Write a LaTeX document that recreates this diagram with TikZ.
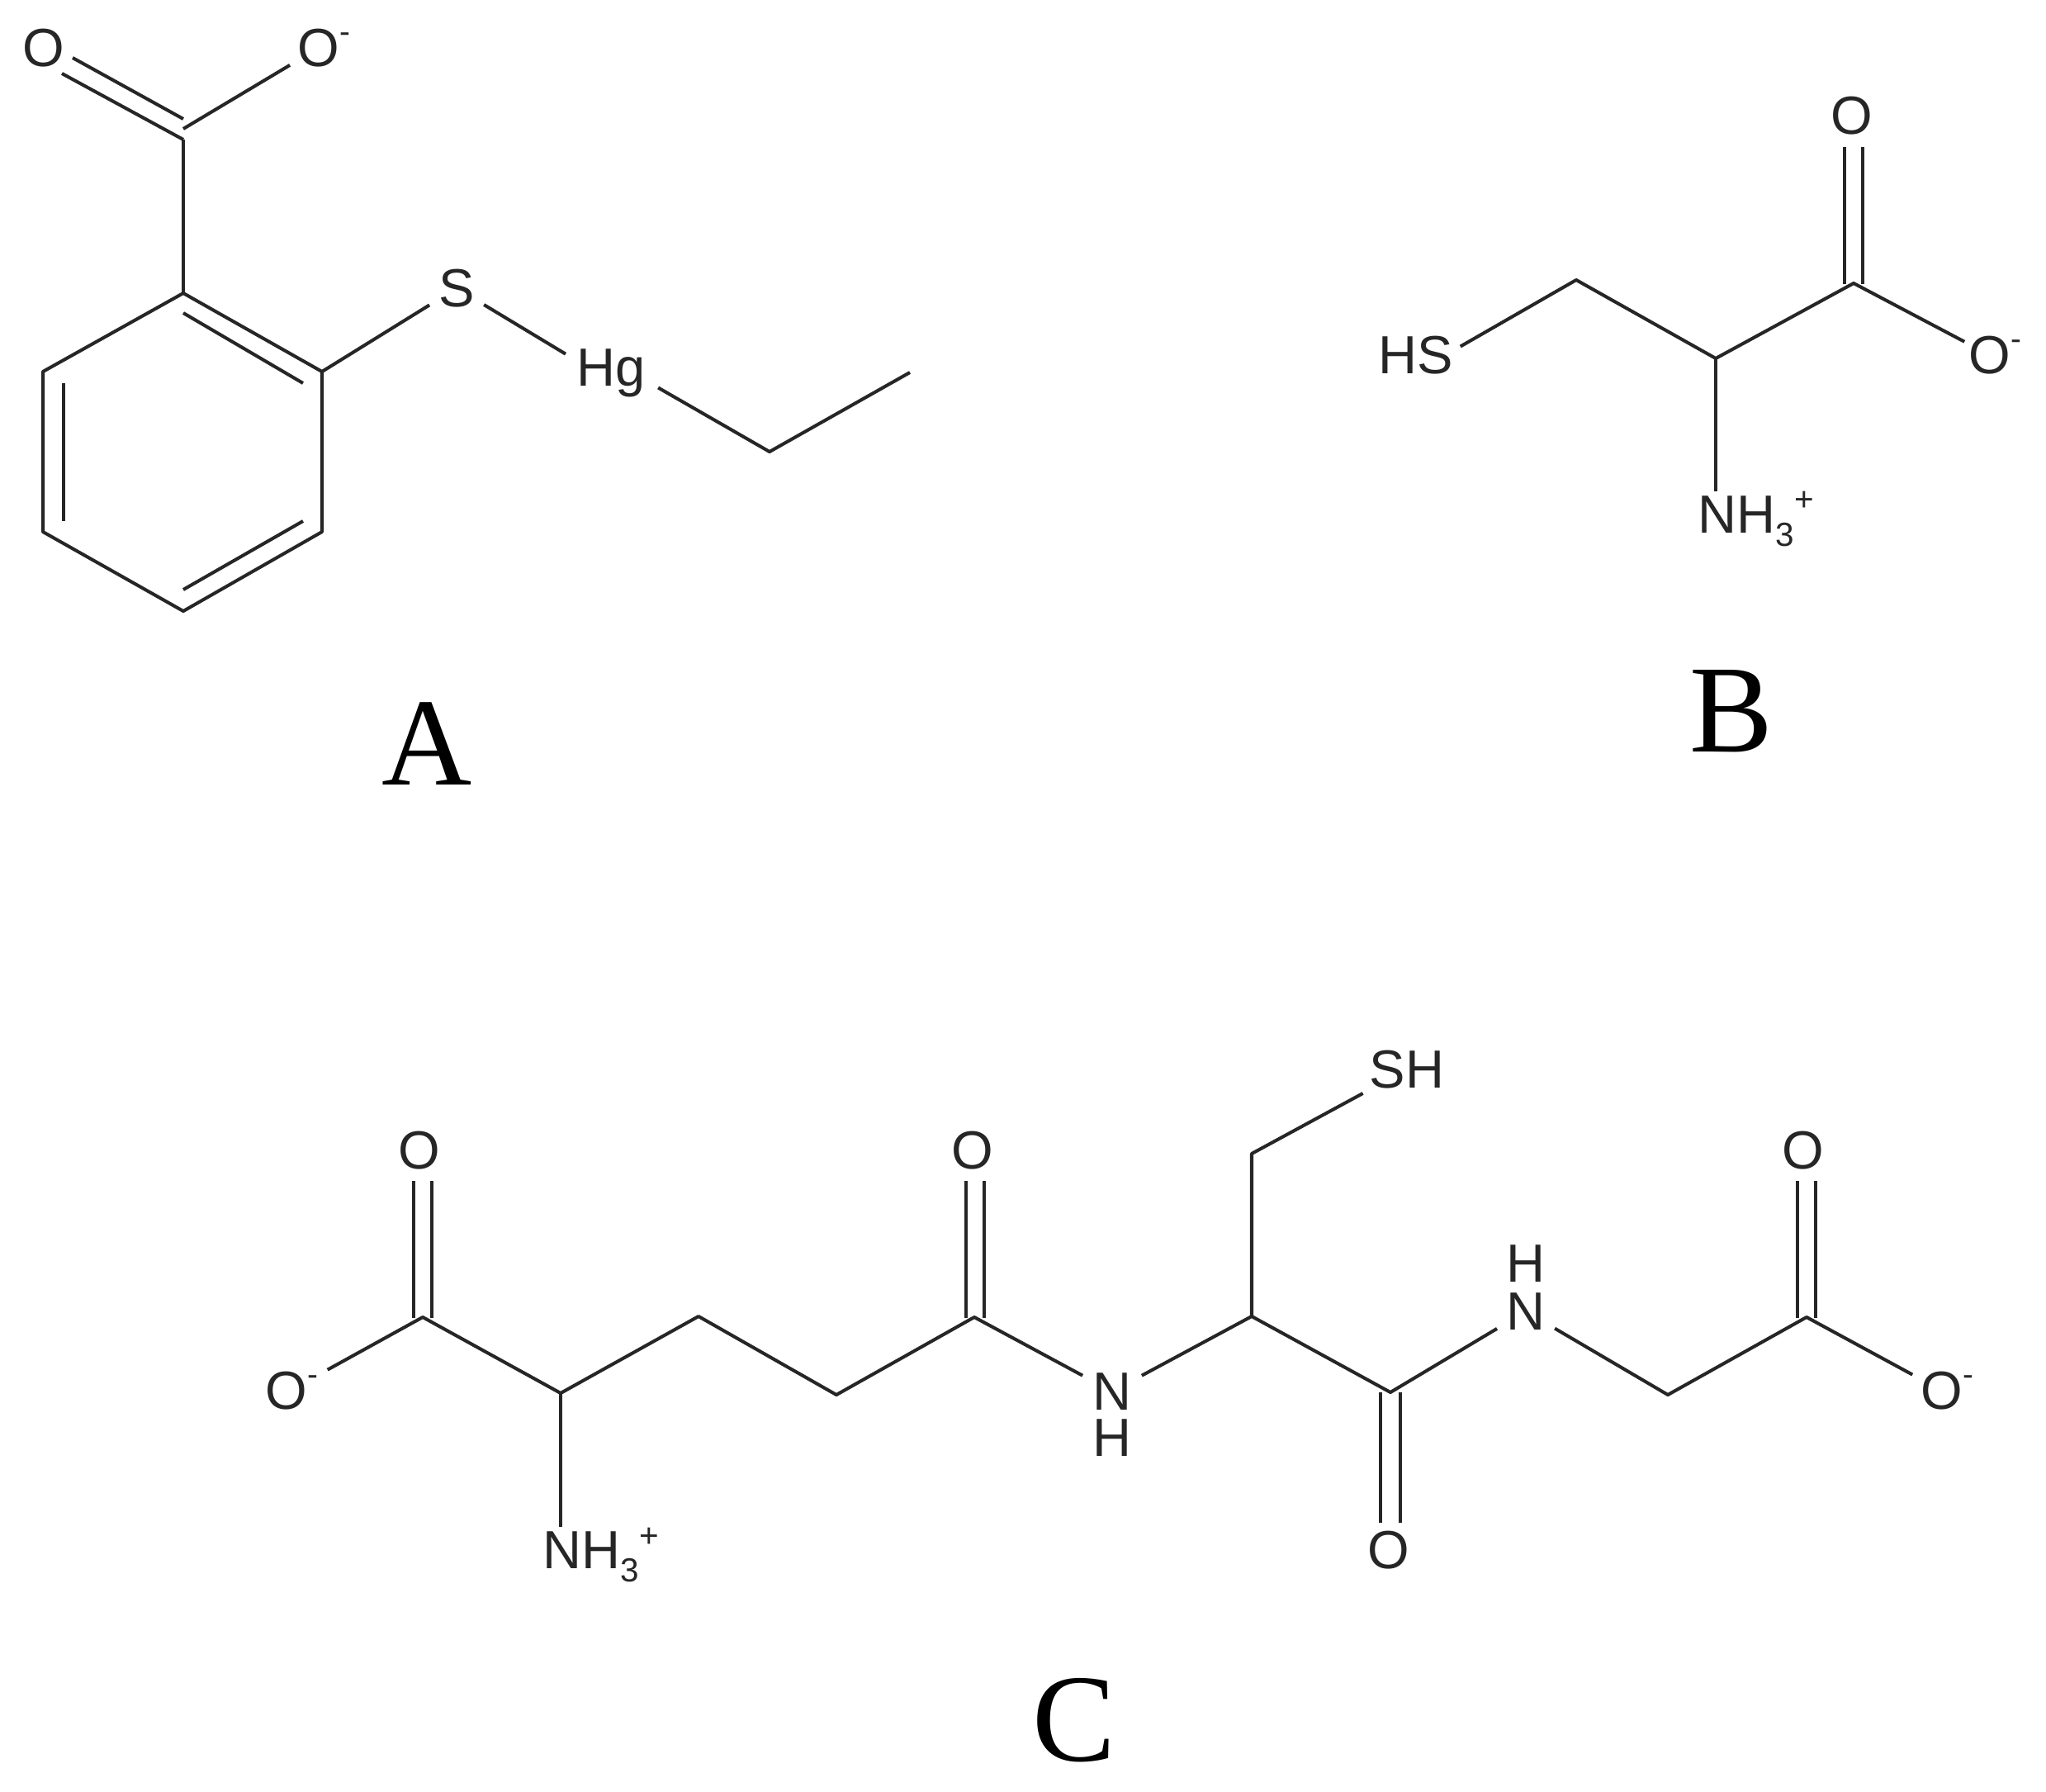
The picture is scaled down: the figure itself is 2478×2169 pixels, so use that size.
\documentclass[tikz,border=0pt]{standalone}
\usepackage{fontspec}
\setmainfont{Liberation Sans}
\newfontfamily\tagfont{Liberation Serif}
\definecolor{ink}{HTML}{262626}
\newcommand{\chemminus}{\rlap{\raisebox{8.2pt}{\fontsize{11}{11}\selectfont -}}}
\newcommand{\chemthree}{\raisebox{-4.6pt}{\fontsize{11.5}{12}\selectfont 3}\raisebox{7.4pt}{\fontsize{11.5}{12}\selectfont +}}
\tikzset{
  bond/.style={draw=ink,line width=1.15pt,line join=round},
  atom/.style={circle,inner sep=0pt,minimum size=#1 cm,text=ink,font=\fontsize{18.5}{20}\selectfont},
  amine/.style={anchor=base west,inner sep=0pt,text=ink,font=\fontsize{18.5}{20}\selectfont},
  tag/.style={inner sep=0pt,text=black,font=\tagfont\fontsize{43}{46}\selectfont}
}
\begin{document}
\begin{tikzpicture}[x=0.01cm,y=-0.01cm]
\useasboundingbox (0,0) rectangle (2478,2169);
% ---------- A ----------
\coordinate (a1) at (222,156);
\coordinate (a2) at (222,355);
\coordinate (a3) at (390,450);
\coordinate (a4) at (390,644);
\coordinate (a5) at (222,740);
\coordinate (a6) at (52,644);
\coordinate (a7) at (52,450);
\coordinate (a8) at (932,547);
\coordinate (a9) at (1102,451);
\node[atom=0.8] (aO1) at (53,58) {O};
\node[atom=0.8] (aO2) at (386,58) {O\chemminus};
\node[atom=0.76] (aS) at (553,349) {S};
\node[atom=1.18] (aHg) at (740,452) {Hg};
\coordinate (ad1s) at (88,70);
\coordinate (ad1e) at (222,144);
\coordinate (ad2s) at (75,89);
\coordinate (ad2e) at (222,169);
\coordinate (ar1s) at (222,379);
\coordinate (ar1e) at (367,464);
\coordinate (ar2s) at (77,464);
\coordinate (ar2e) at (77,631);
\coordinate (ar3s) at (222,714);
\coordinate (ar3e) at (367,631);
\draw[bond] (ad1s) -- (ad1e);
\draw[bond] (ad2s) -- (ad2e);
\draw[bond] (a1) -- (aO2);
\draw[bond] (ad2e) -- (a2);
\draw[bond] (a2) -- (a3) -- (a4) -- (a5) -- (a6) -- (a7) -- (a2);
\draw[bond] (ar1s) -- (ar1e);
\draw[bond] (ar2s) -- (ar2e);
\draw[bond] (ar3s) -- (ar3e);
\draw[bond] (a3) -- (aS);
\draw[bond] (aS) -- (aHg.157);
\draw[bond] (aHg.-17) -- (a8) -- (a9);
\node[tag] (tagA) at (517,901) {A};
% ---------- B ----------
\coordinate (b1) at (1909,339);
\coordinate (b2) at (2078,434);
\coordinate (b3) at (2245,343);
\node[atom=1.08] (bHS) at (1715,430) {HS};
\node[atom=0.8] (bO1) at (2243,140) {O};
\node[atom=0.66] (bO2) at (2410,430) {O\chemminus};
\node[amine] (bN) at (2056,645) {NH\chemthree};
\coordinate (bd1s) at (2234,178);
\coordinate (bd1e) at (2234,344);
\coordinate (bd2s) at (2256,178);
\coordinate (bd2e) at (2256,344);
\draw[bond] (bHS.11) -- (b1) -- (b2) -- (b3) -- (bO2);
\draw[bond] (bd1s) -- (bd1e);
\draw[bond] (bd2s) -- (bd2e);
\draw[bond] (b2) -- (b2 |- bN.north);
\node[tag] (tagB) at (2097,861) {B};
% ---------- C ----------
\coordinate (c1) at (512,1595);
\coordinate (c2) at (679,1687);
\coordinate (c3) at (846,1594);
\coordinate (c4) at (1013,1689);
\coordinate (c5) at (1180,1595);
\coordinate (c6) at (1516,1594);
\coordinate (c7) at (1516,1397);
\coordinate (c8) at (1684,1686);
\coordinate (c9) at (2020,1689);
\coordinate (c10) at (2188,1595);
\node[atom=0.8] (cO1) at (508,1393) {O};
\node[atom=1.1] (cO2) at (347,1684) {O\chemminus};
\node[atom=0.8] (cO3) at (1178,1393) {O};
\node[atom=0.8] (cO4) at (1682,1877) {O};
\node[atom=0.8] (cO5) at (2184,1393) {O};
\node[atom=0.8] (cO6) at (2352,1684) {O\chemminus};
\node[atom=0.8] (cN1) at (1347,1685) {N};
\node[atom=0.1] (cH1) at (1347,1741) {H};
\node[atom=0.8] (cN2) at (1848,1588) {N};
\node[atom=0.1] (cH2) at (1848,1530) {H};
\node[atom=1.2] (cSH) at (1704,1295) {SH};
\node[amine] (cN3) at (657,1899) {NH\chemthree};
\coordinate (cd1s) at (501,1430);
\coordinate (cd1e) at (501,1596);
\coordinate (cd2s) at (523,1430);
\coordinate (cd2e) at (523,1596);
\coordinate (cd3s) at (1170,1430);
\coordinate (cd3e) at (1170,1596);
\coordinate (cd4s) at (1192,1430);
\coordinate (cd4e) at (1192,1596);
\coordinate (cd5s) at (1672,1686);
\coordinate (cd5e) at (1672,1844);
\coordinate (cd6s) at (1696,1686);
\coordinate (cd6e) at (1696,1844);
\coordinate (cd7s) at (2177,1430);
\coordinate (cd7e) at (2177,1596);
\coordinate (cd8s) at (2199,1430);
\coordinate (cd8e) at (2199,1596);
\draw[bond] (cO2.27) -- (c1) -- (c2) -- (c3) -- (c4) -- (c5) -- (cN1);
\draw[bond] (cN1) -- (c6) -- (c8) -- (cN2);
\draw[bond] (cN2) -- (c9) -- (c10) -- (cO6);
\draw[bond] (c6) -- (c7) -- (cSH);
\draw[bond] (c2) -- (c2 |- cN3.north);
\draw[bond] (cd1s) -- (cd1e);
\draw[bond] (cd2s) -- (cd2e);
\draw[bond] (cd3s) -- (cd3e);
\draw[bond] (cd4s) -- (cd4e);
\draw[bond] (cd5s) -- (cd5e);
\draw[bond] (cd6s) -- (cd6e);
\draw[bond] (cd7s) -- (cd7e);
\draw[bond] (cd8s) -- (cd8e);
\node[tag] (tagC) at (1301,2083) {C};
\end{tikzpicture}
\end{document}
